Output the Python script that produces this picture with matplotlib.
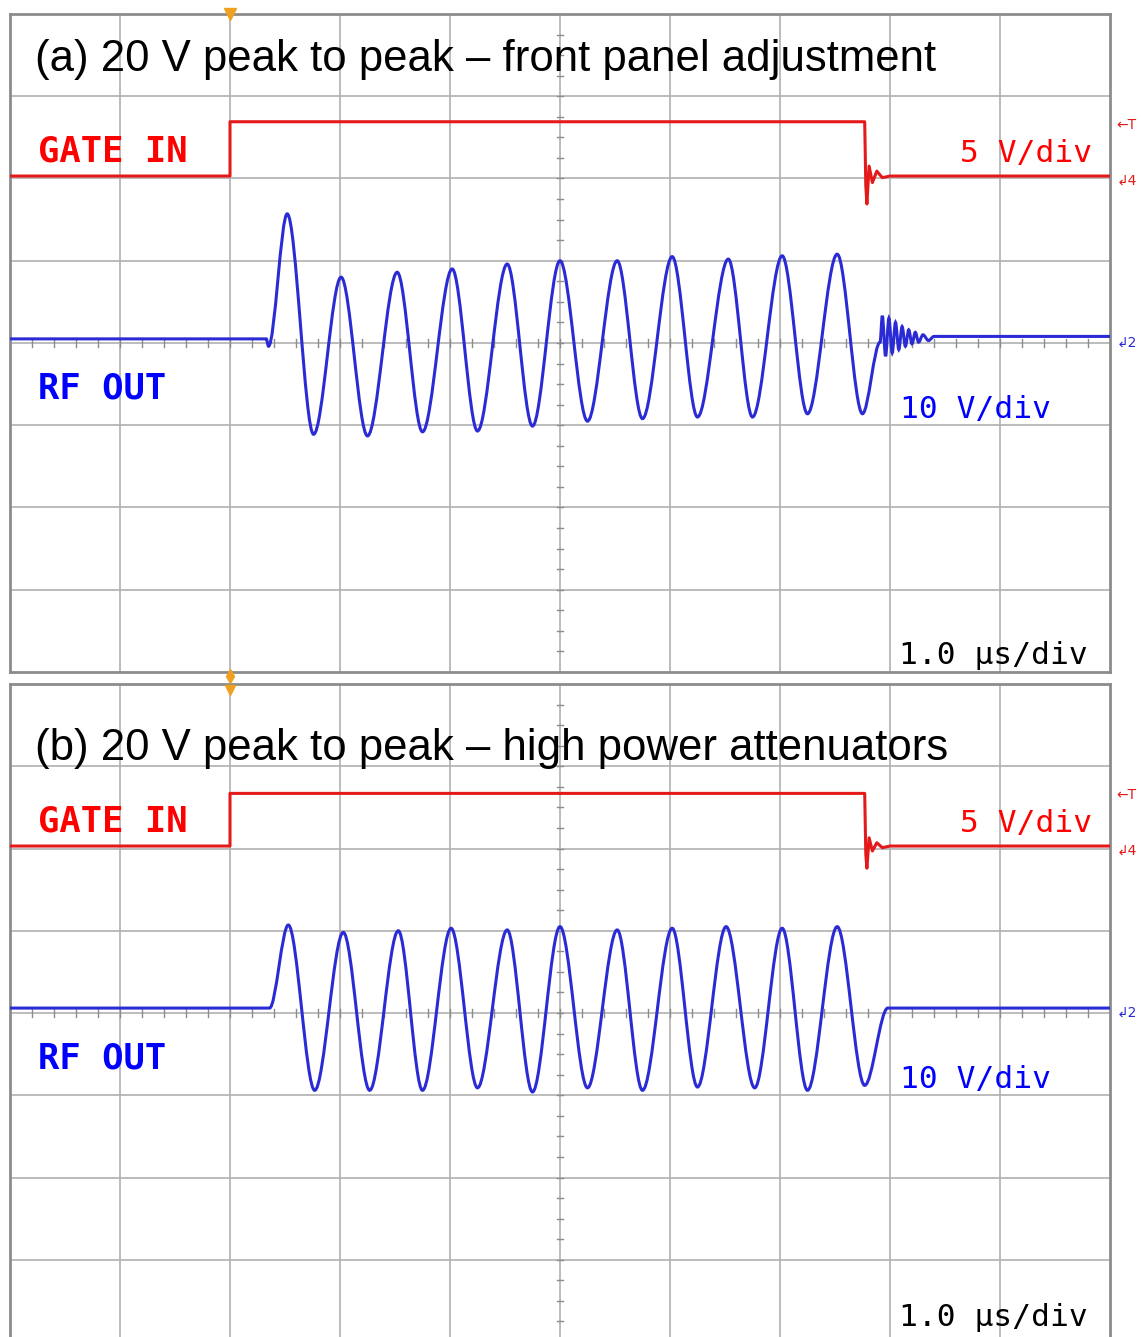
import matplotlib
matplotlib.use("Agg")
import matplotlib.pyplot as plt
from matplotlib.path import Path
from matplotlib.patches import PathPatch

# screen: 10 x 1 us/div horizontally, 8 divisions vertically
GATE_SCALE = 5.0    # V/div
RF_SCALE = 10.0     # V/div
GATE_OFFSET = 2.03  # div above centre

# gate input (time in us, volts), straight segments
gate_a_t = [0.0, 2.0, 2.0, 7.77, 7.78, 7.79, 7.81, 7.84, 7.88, 7.93, 8.0, 10.0]
gate_a_v = [0.0, 0.0, 3.3, 3.3, -0.6, -1.7, 0.6, -0.4, 0.3, -0.1, 0.0, 0.0]
gate_b_t = [0.0, 2.0, 2.0, 7.77, 7.78, 7.79, 7.81, 7.84, 7.88, 7.93, 8.0, 10.0]
gate_b_v = [0.0, 0.0, 3.2, 3.2, -0.5, -1.35, 0.5, -0.3, 0.2, -0.1, 0.0, 0.0]

# rf output extrema (time in us, volts), joined by smooth curves
rf_a_t = [0.0, 2.33, 2.35, 2.52, 2.76, 3.01, 3.25, 3.52, 3.75, 4.02, 4.25,
          4.52, 4.75, 5.00, 5.25, 5.52, 5.75, 6.02, 6.25, 6.53, 6.75, 7.02,
          7.25, 7.52, 7.75, 7.91, 7.93, 7.96, 7.99, 8.02, 8.05, 8.08, 8.11,
          8.14, 8.17, 8.20, 8.23, 8.26, 8.30, 8.35, 8.40, 10.0]
rf_a_v = [0.5, 0.5, -0.4, 15.7, -11.1, 8.0, -11.3, 8.6, -10.8, 9.0, -10.7,
          9.6, -10.1, 10.0, -9.5, 10.0, -9.2, 10.5, -9.0, 10.2, -9.0, 10.6,
          -8.6, 10.8, -8.6, 0.1, 3.3, -1.6, 3.0, -1.2, 2.5, -0.8, 2.0,
          -0.4, 1.6, -0.1, 1.3, 0.1, 1.0, 0.3, 0.8, 0.8]
rf_b_t = [0.0, 2.36, 2.53, 2.77, 3.03, 3.27, 3.53, 3.75, 4.01, 4.25, 4.52,
          4.75, 5.00, 5.25, 5.52, 5.75, 6.02, 6.25, 6.51, 6.77, 7.02, 7.25,
          7.52, 7.77, 7.98, 10.0]
rf_b_v = [0.6, 0.6, 10.7, -9.4, 9.8, -9.4, 10.0, -9.4, 10.3, -9.1, 10.1,
          -9.6, 10.5, -9.1, 10.1, -9.4, 10.3, -9.0, 10.5, -9.1, 10.3, -9.4,
          10.5, -8.8, 0.6, 0.6]

titles = ["(a) 20 V peak to peak \u2013 front panel adjustment",
          "(b) 20 V peak to peak \u2013 high power attenuators"]
title_y = [3.31, 3.08]

W, H = 1141, 1337
RED = "#e41a1a"
BLUE = "#2b2bd6"
GRID = "#b0b0b0"


def smooth_path(t, v):
    verts = [(t[0], v[0])]
    codes = [Path.MOVETO]
    for i in range(1, len(t)):
        dt = t[i] - t[i - 1]
        verts += [(t[i - 1] + dt / 3, v[i - 1]), (t[i] - dt / 3, v[i]), (t[i], v[i])]
        codes += [Path.CURVE4] * 3
    return Path(verts, codes)


def draw_panel(ax, gate_t, gate_v, rf_t, rf_v, title, ty, scale_y):
    ax.set_xlim(0, 10)
    ax.set_ylim(-4, 4)
    ax.set_xticks([])
    ax.set_yticks([])
    for s in ax.spines.values():
        s.set_color("#8c8c8c")
        s.set_linewidth(2)

    for x in range(1, 10):
        ax.axvline(x, color=GRID, lw=1.2, zorder=1)
    for y in range(-3, 4):
        ax.axhline(y, color=GRID, lw=1.2, zorder=1)
    # minor ticks on the centre cross
    for i in range(1, 50):
        x = i * 0.2
        ax.plot([x, x], [-0.05, 0.05], color="#8c8c8c", lw=1, zorder=1)
    for i in range(-15, 16):
        y = i * 0.25
        ax.plot([4.97, 5.03], [y, y], color="#8c8c8c", lw=1, zorder=1)

    gy = [GATE_OFFSET + v / GATE_SCALE for v in gate_v]
    ax.plot(gate_t, gy, color=RED, lw=2.2, zorder=3)

    ry = [v / RF_SCALE for v in rf_v]
    ax.add_patch(PathPatch(smooth_path(rf_t, ry), fill=False,
                           edgecolor=BLUE, lw=2.2, zorder=3))

    ax.text(0.227, ty, title, fontsize=31.5, family="Liberation Sans",
            color="black", zorder=4)
    mono = "DejaVu Sans Mono"
    ax.text(0.25, 2.21, "GATE IN", fontsize=25.6, family=mono,
            weight="bold", color="#ff0000", zorder=4)
    ax.text(0.25, -0.68, "RF OUT", fontsize=25.6, family=mono,
            weight="bold", color="#0000ff", zorder=4)
    ax.text(9.84, 2.2, "5 V/div", fontsize=22.5, family=mono,
            color="#ff0000", ha="right", zorder=4)
    ax.text(8.09, -0.91, "10 V/div", fontsize=22.5, family=mono,
            color="#0000ff", zorder=4)
    ax.text(9.8, scale_y, "1.0 \u00b5s/div", fontsize=22.5, family=mono,
            color="black", ha="right", zorder=4)

    # channel / trigger markers outside the screen
    ax.text(10.06, GATE_OFFSET + 0.62, "\u2190T", fontsize=10, color=RED,
            va="center", clip_on=False)
    ax.text(10.06, GATE_OFFSET - 0.05, "\u21b24", fontsize=10, color=RED,
            va="center", clip_on=False)
    ax.text(10.06, 0.0, "\u21b22", fontsize=10, color=BLUE,
            va="center", clip_on=False)


fig = plt.figure(figsize=(W / 100, H / 100), dpi=100)
fig.patch.set_facecolor("white")
left, width, height = 10 / W, 1100 / W, 658 / H
ax_a = fig.add_axes([left, (H - 672) / H, width, height])
ax_b = fig.add_axes([left, (H - 1342) / H, width, height])

draw_panel(ax_a, gate_a_t, gate_a_v, rf_a_t, rf_a_v, titles[0], title_y[0], -3.9)
draw_panel(ax_b, gate_b_t, gate_b_v, rf_b_t, rf_b_v, titles[1], title_y[1], -3.8)

# trigger position markers
ax_a.plot([2.0], [4.0], marker="v", color="#f0a020", ms=8,
          clip_on=False, zorder=5)
ax_b.plot([2.0], [4.1], marker="d", color="#f0a020", ms=7,
          clip_on=False, zorder=5)
ax_b.plot([2.0], [3.93], marker="v", color="#f0a020", ms=7,
          clip_on=False, zorder=5)

fig.savefig("out.png", dpi=100)
